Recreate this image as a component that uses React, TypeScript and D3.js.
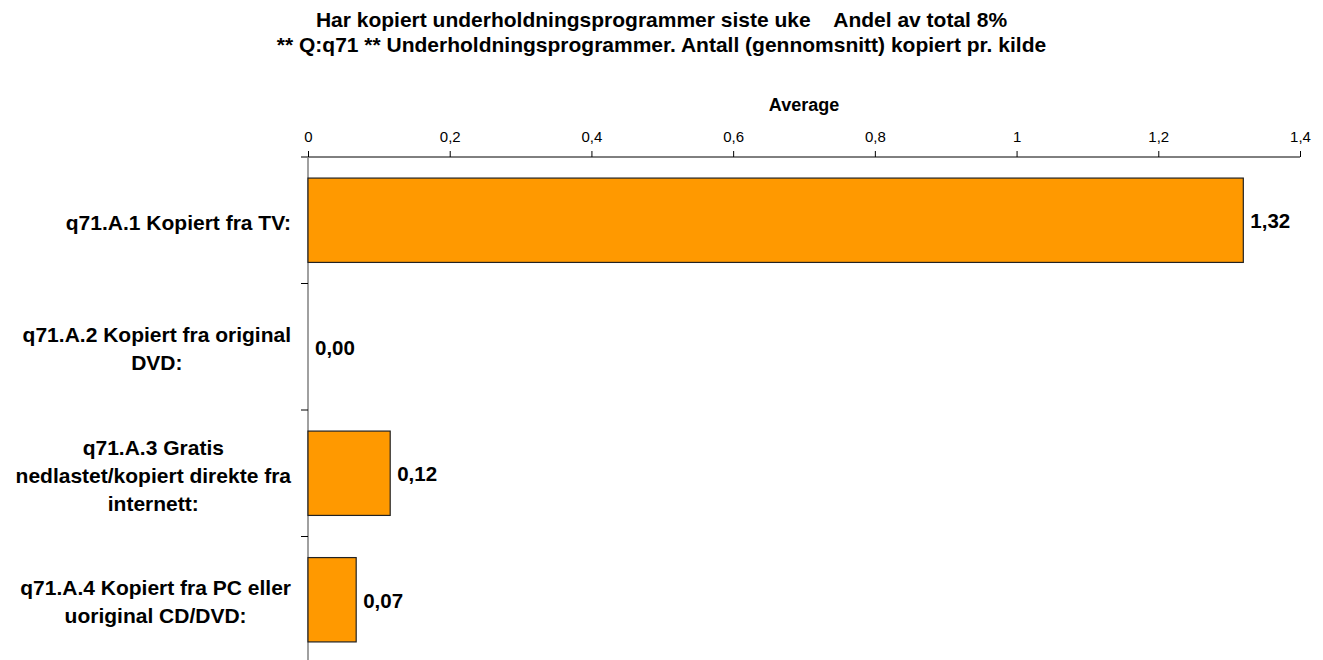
import React, { useEffect, useRef } from "react";
import * as d3 from "d3";

const titleLines = [
  "Har kopiert underholdningsprogrammer siste uke    Andel av total 8%",
  "** Q:q71 ** Underholdningsprogrammer. Antall (gennomsnitt) kopiert pr. kilde",
];
const axisTitle = "Average";
const categories = [
  "q71.A.1 Kopiert fra TV:",
  "q71.A.2 Kopiert fra original|DVD:",
  "q71.A.3 Gratis|nedlastet/kopiert direkte fra|internett:",
  "q71.A.4 Kopiert fra PC eller|uoriginal CD/DVD:",
];
const values = [1.32, 0.0, 0.116, 0.068];
const xTicks = [0, 0.2, 0.4, 0.6, 0.8, 1, 1.2, 1.4];

const W = 1323;
const H = 660;
const FONT = "'Liberation Sans', Arial, Helvetica, sans-serif";

export default function App() {
  const ref = useRef<SVGSVGElement>(null);

  useEffect(() => {
    const svg = d3.select(ref.current);
    svg.selectAll("*").remove();

    const locale = d3.formatLocale({ decimal: ",", thousands: " ", grouping: [3], currency: ["", " kr"] });
    const fmtVal = locale.format(".2f");
    const fmtTick = (v: number) => locale.format("~g")(+v.toFixed(2));

    const x = d3.scaleLinear().domain([0, 1.4]).range([308, 1300]);
    const y = d3
      .scaleBand<string>()
      .domain(categories)
      .range([157, 157 + 4 * 126.5])
      .paddingInner(1 / 3)
      .paddingOuter(1 / 6);

    // Title
    const tg = svg.append("g").attr("font-family", FONT).attr("font-weight", "bold").attr("font-size", 21);
    titleLines.forEach((t, i) => {
      tg.append("text")
        .attr("x", W / 2)
        .attr("y", 27 + i * 25)
        .attr("text-anchor", "middle")
        .attr("fill", "#000")
        .style("white-space", "pre")
        .text(t);
    });

    // Axis title
    svg
      .append("text")
      .attr("x", (308 + 1300) / 2)
      .attr("y", 111)
      .attr("text-anchor", "middle")
      .attr("font-family", FONT)
      .attr("font-weight", "bold")
      .attr("font-size", 18)
      .text(axisTitle);

    // X axis on top
    const xAxis = d3
      .axisTop(x)
      .tickValues(xTicks)
      .tickSize(6)
      .tickPadding(9)
      .tickFormat((d) => fmtTick(d as number));
    const gx = svg.append("g").attr("transform", "translate(0,157)").call(xAxis);
    gx.select(".domain").attr("stroke", "#000").attr("d", `M301,0H${1300}`);
    gx.selectAll(".tick line").attr("stroke", "#000");
    gx.selectAll(".tick text").attr("font-family", FONT).attr("font-size", 15).attr("fill", "#000");

    // Category axis (vertical gray line with ticks at band boundaries)
    const catG = svg.append("g");
    catG
      .append("line")
      .attr("x1", 308)
      .attr("x2", 308)
      .attr("y1", 157)
      .attr("y2", H + 10)
      .attr("stroke", "#808080")
      .attr("stroke-width", 1.5);
    categories.forEach((c, i) => {
      if (i === 0) return;
      const yy = (y(c) as number) - (y.step() * y.paddingInner()) / 2;
      catG
        .append("line")
        .attr("x1", 301)
        .attr("x2", 308)
        .attr("y1", yy)
        .attr("y2", yy)
        .attr("stroke", "#000");
    });

    // Bars
    svg
      .append("g")
      .selectAll("rect")
      .data(values)
      .join("rect")
      .attr("x", x(0))
      .attr("y", (_, i) => y(categories[i]) as number)
      .attr("width", (d) => x(d) - x(0))
      .attr("height", y.bandwidth())
      .attr("fill", "#FF9900")
      .attr("stroke", (d) => (d > 0 ? "#222" : "none"))
      .attr("stroke-width", 1.2);

    // Value labels
    svg
      .append("g")
      .selectAll("text")
      .data(values)
      .join("text")
      .attr("x", (d) => x(d) + 7)
      .attr("y", (_, i) => (y(categories[i]) as number) + y.bandwidth() / 2 + 1)
      .attr("dy", "0.35em")
      .attr("font-family", FONT)
      .attr("font-weight", "bold")
      .attr("font-size", 20.5)
      .attr("fill", "#000")
      .text((d) => fmtVal(d));

    // Category labels: block right aligned, lines centered
    const lg = svg.append("g").attr("font-family", FONT).attr("font-weight", "bold").attr("font-size", 21);
    const lineH = 28;
    categories.forEach((c) => {
      const lines = c.split("|");
      const cy = (y(c) as number) + y.bandwidth() / 2 + 2;
      const tmp = lines.map((l) => lg.append("text").text(l));
      const widths = tmp.map((t) => (t.node() as SVGTextElement).getComputedTextLength());
      const maxW = d3.max(widths) || 0;
      const cx = 291 - maxW / 2;
      tmp.forEach((t, j) => {
        t.attr("x", cx)
          .attr("text-anchor", "middle")
          .attr("y", cy + (j - (lines.length - 1) / 2) * lineH)
          .attr("dy", "0.35em")
          .attr("fill", "#000");
      });
    });
  }, []);

  return (
    <svg
      ref={ref}
      width={W}
      height={H}
      style={{ position: "absolute", left: 0, top: 0, background: "#fff" }}
    />
  );
}
